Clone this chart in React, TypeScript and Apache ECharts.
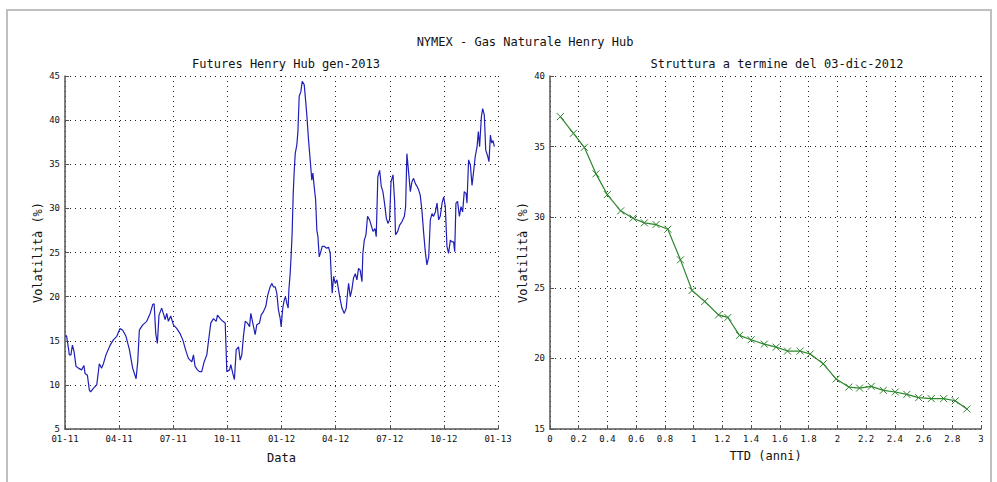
import React, { useEffect, useRef } from "react";
import * as echarts from "echarts";

const mainTitle = "NYMEX - Gas Naturale Henry Hub";
const leftTitle = "Futures Henry Hub gen-2013";
const rightTitle = "Struttura a termine del 03-dic-2012";
const yName = "Volatilità (%)";
const leftXName = "Data";
const rightXName = "TTD (anni)";

// months since 01-2011
const leftMonths = [
  0.04, 0.09, 0.18, 0.24, 0.33, 0.41, 0.5, 0.61, 0.74, 0.92, 1.05, 1.11, 1.24, 1.35, 1.42, 1.57, 1.76, 1.85, 1.9, 2.03,
  2.13, 2.27, 2.5, 2.68, 2.87, 3.05, 3.2, 3.38, 3.57, 3.75, 3.94, 4.03, 4.12, 4.31, 4.53, 4.72, 4.86, 4.94, 5.03, 5.12,
  5.21, 5.36, 5.45, 5.55, 5.64, 5.73, 5.86, 6.01, 6.19, 6.38, 6.53, 6.68, 6.84, 7.03, 7.12, 7.21, 7.34, 7.45, 7.58, 7.71,
  7.86, 7.95, 8.08, 8.23, 8.38, 8.45, 8.6, 8.75, 8.88, 8.97, 9.12, 9.19, 9.3, 9.39, 9.49, 9.62, 9.71, 9.8, 9.89, 9.99,
  10.11, 10.23, 10.3, 10.41, 10.54, 10.63, 10.78, 10.87, 11.0, 11.13, 11.24, 11.37, 11.46, 11.56, 11.65, 11.74, 11.83,
  11.93, 11.98, 12.07, 12.15, 12.22, 12.3, 12.37, 12.41, 12.48, 12.54, 12.59, 12.65, 12.7, 12.76, 12.85, 12.91, 12.98,
  13.07, 13.15, 13.26, 13.35, 13.41, 13.5, 13.59, 13.68, 13.74, 13.81, 13.89, 13.96, 14.02, 14.09, 14.18, 14.26, 14.37,
  14.48, 14.61, 14.7, 14.76, 14.81, 14.89, 14.98, 15.07, 15.16, 15.26, 15.35, 15.48, 15.59, 15.66, 15.72, 15.81, 15.9,
  15.99, 16.09, 16.18, 16.27, 16.36, 16.46, 16.51, 16.59, 16.68, 16.77, 16.88, 16.97, 17.07, 17.18, 17.25, 17.34, 17.44,
  17.53, 17.62, 17.71, 17.81, 17.9, 17.99, 18.07, 18.18, 18.27, 18.32, 18.44, 18.55, 18.68, 18.81, 18.88, 18.95, 19.05,
  19.14, 19.23, 19.32, 19.42, 19.51, 19.6, 19.69, 19.79, 19.88, 19.97, 20.06, 20.16, 20.25, 20.34, 20.43, 20.53, 20.62,
  20.71, 20.8, 20.9, 20.99, 21.08, 21.17, 21.26, 21.36, 21.45, 21.54, 21.6, 21.67, 21.76, 21.86, 21.95, 22.04, 22.13,
  22.23, 22.28, 22.37, 22.47, 22.56, 22.65, 22.74, 22.84, 22.91, 22.98, 23.08, 23.15, 23.24, 23.32, 23.43, 23.5, 23.58,
  23.65, 23.72, 23.8,
];
const leftVol = [
  15.65, 15.5, 14.3, 13.4, 13.4, 14.5, 13.8, 12.1, 11.9, 11.7, 12.2, 11.3, 11.1, 9.4, 9.2, 9.6, 10.0, 11.5, 12.4, 11.9,
  12.4, 13.4, 14.5, 15.1, 15.5, 16.4, 16.2, 15.5, 14.0, 11.9, 10.7, 12.6, 16.2, 16.8, 17.2, 18.1, 19.1, 19.2, 15.8, 14.7,
  17.9, 18.7, 18.1, 17.4, 18.1, 17.2, 17.8, 16.8, 16.4, 15.8, 15.1, 14.0, 13.0, 12.6, 13.4, 12.1, 11.7, 11.5, 11.5, 12.6,
  13.4, 14.9, 17.0, 17.5, 17.2, 17.9, 17.5, 17.2, 17.0, 11.5, 11.7, 12.3, 11.3, 10.6, 14.0, 14.3, 12.8, 13.4, 15.5, 17.2,
  17.0, 16.6, 18.1, 17.0, 15.7, 16.8, 17.0, 17.9, 18.3, 18.9, 20.2, 21.1, 21.5, 21.1, 21.1, 20.4, 18.5,
  17.5, 16.6, 18.7, 19.6, 20.0, 19.2, 18.7, 20.8, 22.6, 24.9, 27.2, 31.7, 34.0, 36.2, 37.2, 38.7, 42.7,
  43.2, 44.4, 44.0, 41.9, 40.4, 37.7, 35.5, 33.2, 34.0, 32.5, 31.0, 27.5, 26.8, 24.5, 25.1, 25.7, 25.7,
  25.5, 25.6, 24.9, 22.3, 20.4, 22.3, 21.5, 21.9, 20.8, 19.6, 18.7, 18.1, 18.7, 20.4, 21.5, 20.0, 20.8,
  22.1, 22.6, 21.9, 23.2, 23.0, 21.7, 24.9, 26.4, 27.0, 29.1, 28.7, 28.1, 27.4, 27.7, 26.8, 33.6, 34.3,
  32.5, 31.9, 30.6, 28.9, 28.3, 28.7, 33.0, 33.8, 30.8, 27.0, 27.4, 28.1, 28.5, 29.1, 30.2, 36.2, 34.0,
  31.9, 33.0, 33.4, 32.8, 32.5, 32.1, 31.5, 29.6, 27.2, 25.1, 23.6, 24.5, 28.7, 29.4, 29.1, 29.6, 30.6,
  28.7, 29.1, 30.6, 31.3, 30.2, 25.7, 24.9, 26.4, 26.2, 26.2, 25.1, 30.6, 30.8, 29.1, 30.2, 29.6, 31.9,
  31.7, 30.6, 35.5, 34.9, 32.6, 34.2, 35.9, 37.0, 38.7, 37.0, 40.4, 41.3, 40.6, 36.6, 35.9, 35.3, 38.3,
  37.4, 37.7, 37.0,
];

// term structure
const ttdYears = [
  0.072, 0.163, 0.239, 0.32, 0.399, 0.492, 0.578, 0.657, 0.738, 0.82, 0.908, 0.989, 1.077, 1.173, 1.238, 1.319, 1.4,
  1.491, 1.574, 1.653, 1.741, 1.811, 1.902, 1.992, 2.08, 2.155, 2.236, 2.32, 2.403, 2.484, 2.566, 2.654, 2.74, 2.821,
  2.902,
];
const ttdVol = [
  37.12, 35.94, 34.95, 33.07, 31.6, 30.45, 29.93, 29.6, 29.48, 29.15, 26.98, 24.81, 24.03, 23.08, 22.9, 21.63, 21.32,
  21.01, 20.8, 20.52, 20.52, 20.31, 19.62, 18.54, 17.97, 17.9, 18.02, 17.74, 17.62, 17.45, 17.22, 17.15, 17.15, 17.0,
  16.42,
];

const FONT = "DejaVu Sans Mono";

export default function App() {
  const ref = useRef<HTMLDivElement>(null);
  useEffect(() => {
    if (!ref.current) return;
    const chart = echarts.init(ref.current, undefined, { renderer: "svg" });
    const axisLineStyle = { color: "#555", width: 1.5 };
    const splitLineStyle = { color: "#222", width: 1, type: [1, 4] as any };
    const labelStyle = { fontFamily: FONT, fontSize: 9, color: "#111" };
    const nameStyle = { fontFamily: FONT, fontSize: 12, color: "#111" };
    const pad = (n: number) => (n < 10 ? "0" + n : "" + n);
    chart.setOption({
      animation: false,
      backgroundColor: "#fff",
      graphic: [
        {
          type: "rect",
          shape: { x: 7, y: 10, width: 984, height: 480 },
          style: { fill: "none", stroke: "#c0c0c0", lineWidth: 2 },
          silent: true,
        },
      ],
      title: [
        {
          text: mainTitle,
          left: 520,
          top: 31,
          textAlign: "center",
          textStyle: { fontFamily: FONT, fontSize: 12, fontWeight: "normal", color: "#111" },
        },
        {
          text: leftTitle,
          left: 281,
          top: 53,
          textAlign: "center",
          textStyle: { fontFamily: FONT, fontSize: 12, fontWeight: "normal", color: "#111" },
        },
        {
          text: rightTitle,
          left: 772,
          top: 53,
          textAlign: "center",
          textStyle: { fontFamily: FONT, fontSize: 12, fontWeight: "normal", color: "#111" },
        },
      ],
      grid: [
        { left: 65, top: 76, width: 433, height: 353 },
        { left: 550, top: 76, width: 431, height: 353 },
      ],
      xAxis: [
        {
          type: "value",
          gridIndex: 0,
          min: 0,
          max: 24,
          interval: 3,
          name: leftXName,
          nameLocation: "middle",
          nameGap: 23,
          nameTextStyle: nameStyle,
          axisLine: { show: true, lineStyle: axisLineStyle },
          axisTick: { show: true, inside: true, length: 4, lineStyle: { color: "#555" } },
          axisLabel: {
            ...labelStyle,
            margin: 5,
            formatter: (v: number) => {
              const mi = Math.round(v);
              return pad((mi % 12) + 1) + "-" + pad(11 + Math.floor(mi / 12));
            },
          },
          splitLine: { show: true, lineStyle: splitLineStyle },
        },
        {
          type: "value",
          gridIndex: 1,
          min: 0,
          max: 3,
          interval: 0.2,
          name: rightXName,
          nameLocation: "middle",
          nameGap: 21,
          nameTextStyle: nameStyle,
          axisLine: { show: true, lineStyle: axisLineStyle },
          axisTick: { show: true, inside: true, length: 4, lineStyle: { color: "#555" } },
          axisLabel: { ...labelStyle, margin: 5, showMaxLabel: true },
          splitLine: { show: true, lineStyle: splitLineStyle },
        },
      ],
      yAxis: [
        {
          type: "value",
          gridIndex: 0,
          min: 5,
          max: 45,
          interval: 5,
          name: yName,
          nameLocation: "middle",
          nameGap: 21,
          nameTextStyle: nameStyle,
          axisLine: { show: true, lineStyle: axisLineStyle },
          axisTick: { show: true, inside: true, length: 4, lineStyle: { color: "#555" } },
          axisLabel: { ...labelStyle, margin: 5 },
          splitLine: { show: true, lineStyle: splitLineStyle },
        },
        {
          type: "value",
          gridIndex: 1,
          min: 15,
          max: 40,
          interval: 5,
          name: yName,
          nameLocation: "middle",
          nameGap: 21,
          nameTextStyle: nameStyle,
          axisLine: { show: true, lineStyle: axisLineStyle },
          axisTick: { show: true, inside: true, length: 4, lineStyle: { color: "#555" } },
          axisLabel: { ...labelStyle, margin: 5 },
          splitLine: { show: true, lineStyle: splitLineStyle },
        },
      ],
      series: [
        {
          type: "line",
          xAxisIndex: 0,
          yAxisIndex: 0,
          data: leftMonths.map((m, i) => [m, leftVol[i]]),
          showSymbol: false,
          lineStyle: { color: "#1f1fb8", width: 1.2 },
          itemStyle: { color: "#1f1fb8" },
        },
        {
          type: "line",
          xAxisIndex: 1,
          yAxisIndex: 1,
          data: ttdYears.map((t, i) => [t, ttdVol[i]]),
          symbol: "path://M0,0L10,10M10,0L0,10",
          symbolSize: 7,
          showSymbol: true,
          lineStyle: { color: "#2e862e", width: 1.2 },
          itemStyle: { color: "#2e862e", borderColor: "#2e862e", borderWidth: 1 },
        },
      ],
    });
    return () => chart.dispose();
  }, []);
  return (
    <div
      ref={ref}
      style={{ position: "fixed", left: 0, top: 0, width: 997, height: 482, background: "#fff" }}
    />
  );
}
